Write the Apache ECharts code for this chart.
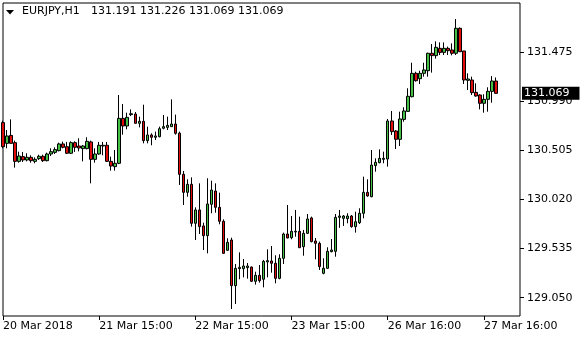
<!DOCTYPE html>
<html>
<head>
<meta charset="utf-8">
<script src="https://cdn.jsdelivr.net/npm/echarts@6/dist/echarts.min.js"></script>
<style>
html,body{margin:0;padding:0;background:#fff;}
#chart{width:580px;height:340px;}
</style>
</head>
<body>
<div id="chart"></div>
<script>
// Hourly bars (EURJPY, H1)
const daySegments = [['20 Mar', 15, 23], ['21 Mar', 0, 23], ['22 Mar', 0, 23], ['23 Mar', 0, 22], ['26 Mar', 0, 23], ['27 Mar', 0, 19]];
const emptySlots = 6;

const openVals = [
130.780,130.575,130.654,130.582,130.397,130.444,130.411,130.437,130.397,130.424,
130.447,130.404,130.470,130.486,130.503,130.569,130.542,130.477,130.582,130.549,
130.523,130.523,130.589,130.417,130.470,130.549,130.556,130.397,130.345,130.378,
130.822,130.747,130.859,130.865,130.773,130.793,130.602,130.658,130.635,130.641,
130.724,130.733,130.740,130.766,130.676,130.269,130.091,130.170,129.785,129.917,
129.759,129.663,129.973,130.104,129.943,129.805,129.518,129.620,129.169,129.337,
129.337,129.347,129.353,129.212,129.271,129.232,129.403,129.413,129.390,129.241,
129.439,129.679,129.643,129.699,129.706,129.554,129.686,129.838,129.610,129.587,
129.291,129.340,129.505,129.508,129.844,129.834,129.831,129.857,129.752,129.791,
129.884,130.091,130.048,130.355,130.384,130.417,130.420,130.796,130.697,130.615,
130.812,130.891,131.036,131.267,131.214,131.267,131.293,131.465,131.442,131.514,
131.474,131.514,131.498,131.465,131.712,131.488,131.198,131.201,131.079,131.053,
130.971,131.010,131.089,131.191];
const highVals = [
130.799,130.707,130.812,130.602,130.493,130.490,130.477,130.457,130.437,130.463,
130.463,130.483,130.526,130.536,130.582,130.592,130.589,130.595,130.595,130.625,
130.559,130.635,130.602,130.526,130.589,130.589,130.589,130.444,130.509,131.053,
130.964,130.878,130.911,130.885,130.839,130.957,130.740,130.674,130.691,130.740,
130.855,130.839,131.010,130.859,130.691,130.302,130.220,130.239,129.943,130.180,
129.791,130.230,130.206,130.180,130.088,129.824,129.637,129.643,129.383,129.498,
129.432,129.393,129.357,129.307,129.373,129.423,129.528,129.561,129.469,129.479,
129.693,129.966,129.857,129.917,129.851,129.719,129.877,129.851,129.640,129.604,
129.439,129.548,129.630,129.877,129.917,129.867,129.884,129.867,129.900,129.933,
130.246,130.220,130.509,130.427,130.516,130.493,130.816,130.895,130.707,130.888,
130.931,131.119,131.372,131.283,131.293,131.372,131.471,131.557,131.583,131.573,
131.573,131.531,131.563,131.804,131.721,131.488,131.267,131.234,131.168,131.060,
131.060,131.129,131.240,131.226];
const lowVals = [
130.526,130.526,130.575,130.335,130.384,130.391,130.397,130.384,130.378,130.411,
130.391,130.397,130.450,130.470,130.496,130.526,130.470,130.470,130.490,130.496,
130.397,130.516,130.180,130.384,130.463,130.457,130.391,130.305,130.305,130.370,
130.661,130.714,130.845,130.773,130.733,130.575,130.575,130.556,130.608,130.635,
130.714,130.707,130.740,130.661,130.164,129.966,130.048,129.752,129.620,129.679,
129.521,129.488,129.884,129.890,129.775,129.485,129.515,128.938,128.988,129.232,
129.251,129.238,129.205,129.179,129.199,129.152,129.251,129.297,129.192,129.232,
129.383,129.637,129.627,129.653,129.544,129.465,129.679,129.597,129.429,129.324,
129.281,129.337,129.498,129.455,129.740,129.759,129.785,129.742,129.693,129.778,
129.834,130.048,130.042,130.295,130.378,130.378,130.345,130.658,130.519,130.549,
130.789,130.888,131.030,131.185,131.162,131.234,131.234,131.274,131.412,131.448,
131.448,131.448,131.445,131.448,131.481,131.162,131.102,131.053,131.036,130.911,
130.878,130.888,130.977,131.069];
const closeVals = [
130.542,130.648,130.575,130.397,130.450,130.411,130.437,130.404,130.417,130.447,
130.404,130.470,130.493,130.513,130.569,130.536,130.477,130.582,130.536,130.529,
130.549,130.595,130.417,130.470,130.556,130.556,130.397,130.351,130.378,130.822,
130.747,130.832,130.868,130.773,130.793,130.602,130.658,130.635,130.648,130.720,
130.740,130.753,130.766,130.674,130.269,130.091,130.170,129.785,129.917,129.752,
129.663,129.976,130.114,129.943,129.805,129.488,129.597,129.169,129.340,129.350,
129.363,129.363,129.212,129.271,129.218,129.409,129.416,129.390,129.241,129.439,
129.679,129.640,129.706,129.706,129.544,129.686,129.828,129.604,129.587,129.357,
129.340,129.508,129.521,129.844,129.857,129.857,129.857,129.752,129.801,129.884,
130.091,130.055,130.361,130.388,130.427,130.427,130.796,130.691,130.615,130.816,
130.895,131.040,131.267,131.194,131.267,131.300,131.465,131.442,131.524,131.474,
131.514,131.491,131.465,131.712,131.481,131.201,131.211,131.076,131.043,130.971,
131.010,131.089,131.191,131.069];

const yTicks = [129.050, 129.535, 130.020, 130.505, 130.990, 131.475];
const tickIndex = [0, 24, 48, 72, 96, 120];
const tickLabels = ['20 Mar 2018', '21 Mar 15:00', '22 Mar 15:00', '23 Mar 15:00', '26 Mar 16:00', '27 Mar 16:00'];
const headerSymbol = 'EURJPY,H1';
const headerOHLC = '131.191 131.226 131.069 131.069';
const lastPrice = 131.069;

const categories = [];
daySegments.forEach(function (seg) {
  for (let h = seg[1]; h <= seg[2]; h++) {
    categories.push(seg[0] + ' ' + (h < 10 ? '0' + h : h) + ':00');
  }
});
for (let i = 0; i < emptySlots; i++) categories.push('');

const candles = openVals.map(function (o, i) {
  return [o, closeVals[i], lowVals[i], highVals[i]];
});

const FONT = 'DejaVu Sans';
const chart = echarts.init(document.getElementById('chart'), null, {renderer: 'canvas'});
chart.setOption({
  animation: false,
  backgroundColor: '#ffffff',
  grid: {left: 3, right: 60, top: 3, bottom: 24, show: true, borderColor: '#000', borderWidth: 1, backgroundColor: '#fff'},
  xAxis: {
    type: 'category',
    data: categories,
    boundaryGap: false,
    axisLine: {show: false},
    axisTick: {show: true, length: 4, interval: function (i) { return tickIndex.indexOf(i) >= 0; }, lineStyle: {color: '#000'}},
    axisLabel: {
      interval: function (i) { return tickIndex.indexOf(i) >= 0; },
      formatter: function (v, i) { const k = tickIndex.indexOf(i); return k >= 0 ? tickLabels[k] : ''; },
      align: 'left', margin: 5, color: '#000', fontFamily: FONT, fontSize: 11
    },
    splitLine: {show: false}
  },
  yAxis: {
    type: 'value',
    position: 'right',
    min: 128.869,
    max: 131.962,
    scale: true,
    axisLine: {show: false},
    axisTick: {show: true, length: 4, customValues: yTicks, lineStyle: {color: '#000'}},
    axisLabel: {customValues: yTicks, formatter: function (v) { return v.toFixed(3); }, margin: 7, color: '#000', fontFamily: FONT, fontSize: 11},
    splitLine: {show: false}
  },
  series: [{
    type: 'candlestick',
    data: candles,
    barWidth: 3,
    clip: true,
    itemStyle: {color: '#44c144', color0: '#e00d0d', borderColor: '#000', borderColor0: '#000', borderWidth: 1},
    markLine: {
      silent: true,
      symbol: ['none', 'none'],
      animation: false,
      lineStyle: {color: 'rgba(0,0,0,0)', width: 0, type: 'solid'},
      label: {
        show: true, position: 'end', distance: 2,
        formatter: function () { return lastPrice.toFixed(3); },
        backgroundColor: '#000', color: '#fff', fontFamily: FONT, fontSize: 11,
        padding: [1, 10, 0, 2], lineHeight: 12
      },
      data: [{yAxis: lastPrice}]
    }
  }],
  graphic: [
    {type: 'polygon', shape: {points: [[6, 10], [14, 10], [10, 14.5]]}, style: {fill: '#000'}},
    {type: 'text', left: 22, top: 6, style: {text: headerSymbol, fill: '#000', font: '11px "DejaVu Sans"'}},
    {type: 'text', left: 91, top: 6, style: {text: headerOHLC, fill: '#000', font: '11px "DejaVu Sans"'}}
  ]
});
</script>
</body>
</html>
